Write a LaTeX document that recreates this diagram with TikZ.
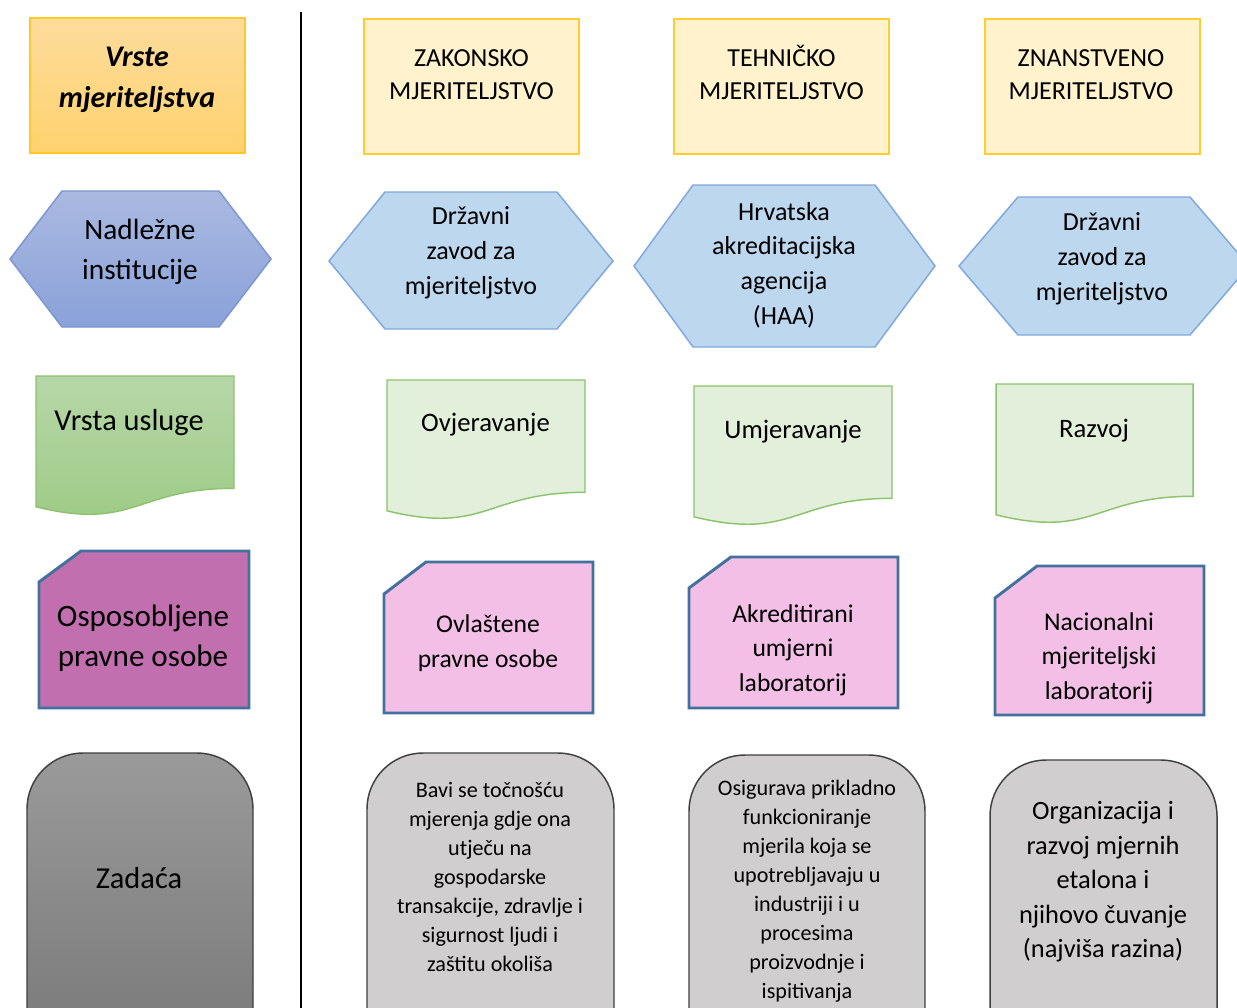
\documentclass[tikz,border=0pt]{standalone}
\usepackage{fontspec}
\setmainfont{Carlito}
\newcommand\fsz[2]{\fontsize{#1}{#2}\selectfont}
\definecolor{cOrT}{HTML}{FDDC9C}
\definecolor{cOrB}{HTML}{FFD26E}
\definecolor{cOrD}{HTML}{FFC72C}
\definecolor{cYel}{HTML}{FFF2CC}
\definecolor{cYelD}{HTML}{FFCC33}
\definecolor{cBlT}{HTML}{AAB9E1}
\definecolor{cBlB}{HTML}{8AA2D9}
\definecolor{cBlD}{HTML}{7C96CF}
\definecolor{cLBl}{HTML}{BDD7EE}
\definecolor{cLBlD}{HTML}{7FA8DC}
\definecolor{cGrT}{HTML}{B7D7A8}
\definecolor{cGrB}{HTML}{9CCA84}
\definecolor{cGrD}{HTML}{8DC26F}
\definecolor{cLGr}{HTML}{E2EFDA}
\definecolor{cMag}{HTML}{C26FB0}
\definecolor{cPnk}{HTML}{F3BFE6}
\definecolor{cPnkD}{HTML}{41719C}
\definecolor{cGyT}{HTML}{9A9A9A}
\definecolor{cGyB}{HTML}{787878}
\definecolor{cLGy}{HTML}{D0CECE}
\definecolor{cGyD}{HTML}{404040}
\tikzset{
  txt/.style={align=center, text=black, inner sep=0pt},
  titlebox/.style={top color=cOrT, bottom color=cOrB, draw=cOrD, line width=1.1pt},
  yelbox/.style={fill=cYel, draw=cYelD, line width=1.1pt},
  hexmain/.style={top color=cBlT, bottom color=cBlB, draw=cBlD, line width=1.1pt},
  hexbox/.style={fill=cLBl, draw=cLBlD, line width=1.1pt},
  docmain/.style={top color=cGrT, bottom color=cGrB, draw=cGrD, line width=1.1pt},
  docbox/.style={fill=cLGr, draw=cGrD, line width=1.1pt},
  snipmain/.style={fill=cMag, draw=cPnkD, line width=2.2pt, line join=miter},
  snipbox/.style={fill=cPnk, draw=cPnkD, line width=2.2pt, line join=miter},
  taskmain/.style={top color=cGyT, bottom color=cGyB, draw=cGyD, line width=1.1pt, rounded corners=42},
  taskbox/.style={fill=cLGy, draw=cGyD, line width=1.1pt, rounded corners=42},
}
\begin{document}
\begin{tikzpicture}[x=0.75pt,y=-0.75pt]
\clip (0,0) rectangle (1237,1007);
\fill[white] (0,0) rectangle (1237,1007);

% divider
\draw[black, line width=1.3pt] (301,12) -- (301,1010);

% row 1: types
\path[titlebox] (30,18) rectangle (245,153);
\node[txt, font=\fsz{22.5}{30.5}\bfseries\itshape] (t0) at (137,80) {Vrste\\mjeriteljstva};
\path[yelbox] (364,19) rectangle (579,154);
\node[txt, font=\fsz{19.5}{24.75}] (t1) at (471.5,75) {ZAKONSKO\\MJERITELJSTVO};
\path[yelbox] (674,19) rectangle (889,154);
\node[txt, font=\fsz{19.5}{24.75}] (t2) at (781.5,72.5) {TEHNIČKO\\MJERITELJSTVO};
\path[yelbox] (985,19) rectangle (1200,154);
\node[txt, font=\fsz{19.5}{24.75}] (t3) at (1091,75) {ZNANSTVENO\\MJERITELJSTVO};

% row 2: institutions
\path[hexmain] (10,259) -- (62,191) -- (219,191) -- (271,259) -- (219,327) -- (62,327) -- cycle;
\node[txt, font=\fsz{22}{30}] (h0) at (140,252) {Nadležne\\institucije};
\path[hexbox] (329,261) -- (385,192) -- (557,192) -- (613,261) -- (557,329) -- (385,329) -- cycle;
\node[txt, font=\fsz{19.5}{26.25}] (h1) at (471,253) {Državni\\zavod za\\mjeriteljstvo};
\path[hexbox] (634,266) -- (693,185) -- (875,185) -- (935,266) -- (875,347) -- (693,347) -- cycle;
\node[txt, font=\fsz{19.5}{26}] (h2) at (784,265) {Hrvatska\\akreditacijska\\agencija\\(HAA)};
\path[hexbox] (959,266) -- (1018,197) -- (1190,197) -- (1249,266) -- (1190,335) -- (1018,335) -- cycle;
\node[txt, font=\fsz{19.5}{26.25}] (h3) at (1102,259) {Državni\\zavod za\\mjeriteljstvo};

% row 3: services
\path[docmain] (36,376) -- (234,376) -- (234,488.3) .. controls (135,488.3) and (135,531.05) .. (36,506.8) -- cycle;
\node[txt, font=\fsz{22.8}{30}] (d0) at (129,423) {Vrsta usluge};
\path[docbox] (387,380) -- (585,380) -- (585,492.3) .. controls (486,492.3) and (486,535.05) .. (387,510.8) -- cycle;
\node[txt, font=\fsz{20}{26}] (d1) at (485.5,425) {Ovjeravanje};
\path[docbox] (694,386) -- (892,386) -- (892,498.3) .. controls (793,498.3) and (793,541.05) .. (694,516.8) -- cycle;
\node[txt, font=\fsz{20}{26}] (d2) at (793,432) {Umjeravanje};
\path[docbox] (996,384) -- (1193,384) -- (1193,496.3) .. controls (1094.5,496.3) and (1094.5,539.05) .. (996,514.8) -- cycle;
\node[txt, font=\fsz{20}{26}] (d3) at (1094,431) {Razvoj};

% row 4: legal persons
\path[snipmain] (39,582) -- (81,551) -- (249,551) -- (249,708) -- (39,708) -- cycle;
\node[txt, font=\fsz{23.3}{30}] (s0) at (143,638) {Osposobljene\\pravne osobe};
\path[snipbox] (384,594) -- (426,562) -- (593,562) -- (593,713) -- (384,713) -- cycle;
\node[txt, font=\fsz{19.2}{26.25}] (s1) at (488,643) {Ovlaštene\\pravne osobe};
\path[snipbox] (689,588) -- (731,557) -- (898,557) -- (898,708) -- (689,708) -- cycle;
\node[txt, font=\fsz{19.2}{26}] (s2) at (793,650) {Akreditirani\\umjerni\\laboratorij};
\path[snipbox] (995,598) -- (1037,566) -- (1204,566) -- (1204,715) -- (995,715) -- cycle;
\node[txt, font=\fsz{19.2}{26}] (s3) at (1099,658) {Nacionalni\\mjeriteljski\\laboratorij};

% row 5: tasks
\path[taskmain] (27,1060) -- (27,753) -- (253,753) -- (253,1060);
\node[txt, font=\fsz{22.8}{30}] (z0) at (139,878) {Zadaća};
\path[taskbox] (367,1060) -- (367,753) -- (614,753) -- (614,1060);
\node[txt, font=\fsz{16.6}{21.75}] (z1) at (490,877) {Bavi se točnošću\\mjerenja gdje ona\\utječu na\\gospodarske\\transakcije, zdravlje i\\sigurnost ljudi i\\zaštitu okoliša};
\path[taskbox] (689,1060) -- (689,755) -- (925,755) -- (925,1060);
\node[txt, font=\fsz{16.6}{21.75}] (z2) at (807,891) {Osigurava prikladno\\funkcioniranje\\mjerila koja se\\upotrebljavaju u\\industriji i u\\procesima\\proizvodnje i\\ispitivanja};
\path[taskbox] (990,1060) -- (990,760) -- (1217,760) -- (1217,1060);
\node[txt, font=\fsz{19.8}{25.9}] (z3) at (1103,882) {Organizacija i\\razvoj mjernih\\etalona i\\njihovo čuvanje\\(najviša razina)};
\end{tikzpicture}
\end{document}
